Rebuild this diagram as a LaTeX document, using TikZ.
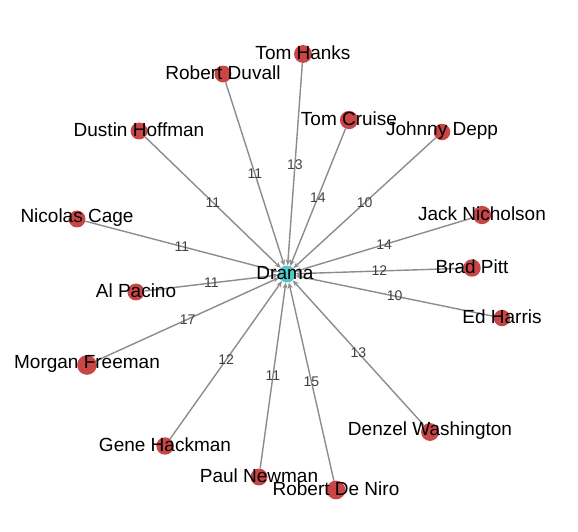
\documentclass[tikz,border=0pt]{standalone}
\usepackage{fontspec}
\setmainfont{Liberation Sans}
\usetikzlibrary{arrows.meta}
\pgfdeclarelayer{bg}
\pgfsetlayers{bg,main}
\definecolor{actorred}{HTML}{C94646}
\definecolor{genrecyan}{HTML}{4FC9CB}
\definecolor{edgegray}{HTML}{8C8C8C}

\begin{document}
\begin{tikzpicture}[x=1pt, y=-1pt,
  actor/.style={circle, fill=actorred, inner sep=0pt, minimum size={(#1)*1pt}},
  genre/.style={circle, fill=genrecyan, inner sep=0pt, minimum size=17pt},
  actortext/.style={font=\fontsize{19}{19}\selectfont, inner sep=0pt},
  link/.style={-{Stealth[length=6pt, width=5pt]}, draw=edgegray, line width=1.4pt},
  weight/.style={font=\fontsize{14}{14}\selectfont, text=black!75, inner sep=1pt}]
  \useasboundingbox (0,0) rectangle (578,531);
  \node[genre] (drama) at (287,274) {};
  \node[actortext] (drama-txt) at (285,273) {Drama};
  % actors: name / x / y / label / shared films
  \foreach \id/\px/\py/\txt/\w in {
      hanks/303/54/Tom Hanks/13,
      duvall/223/74/Robert Duvall/11,
      cruise/349/120/Tom Cruise/14,
      depp/442/132/Johnny Depp/10,
      hoffman/139/131/Dustin Hoffman/11,
      cage/77/219/Nicolas Cage/11,
      pacino/136/292/Al Pacino/11,
      freeman/87/365/Morgan Freeman/17,
      hackman/165/446/Gene Hackman/12,
      newman/259/477/Paul Newman/11,
      deniro/336/490/Robert De Niro/15,
      washington/430/432/Denzel Washington/13,
      nicholson/482/215/Jack Nicholson/14,
      pitt/472/268/Brad Pitt/12,
      harris/502/318/Ed Harris/10}{
    \node[actor={12+0.45*\w}] (\id) at (\px,\py) {};
    \node[actortext] (\id-txt) at (\px,\py-1) {\txt};
    \begin{pgfonlayer}{bg}
      \draw[link] (\id) -- node[weight] {\w} (drama);
    \end{pgfonlayer}
  }
\end{tikzpicture}
\end{document}
